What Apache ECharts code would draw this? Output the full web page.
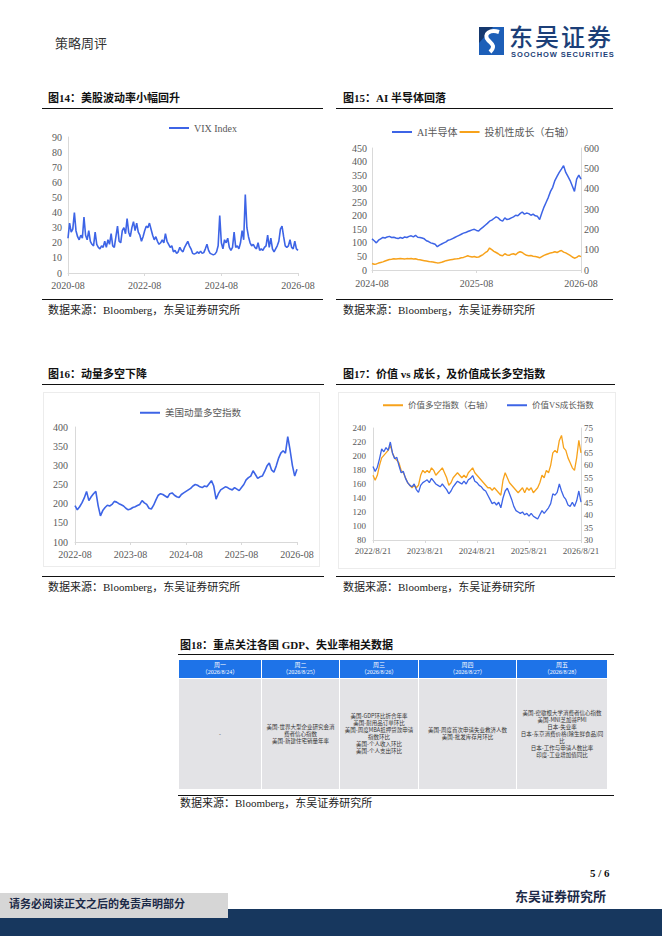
<!DOCTYPE html>
<html><head><meta charset="utf-8">
<script src="https://cdn.jsdelivr.net/npm/echarts@6/dist/echarts.min.js"></script>
<style>
html,body{margin:0;padding:0;background:#fff;}
#page{position:relative;width:662px;height:936px;overflow:hidden;font-family:'Liberation Serif','Noto Sans CJK SC',serif;}
#chart{position:absolute;left:0;top:0;width:662px;height:936px;}
.abs{position:absolute;white-space:nowrap;}
.ttl{font-family:'Liberation Serif','Noto Sans CJK SC',serif;font-weight:bold;font-size:11px;color:#111;line-height:12px;}
.rule{position:absolute;height:0;border-top:1.5px solid #111;}
.src{font-size:11px;color:#222;line-height:12px;}
.box{position:absolute;border:1px solid #ececec;}
.th{position:absolute;background:#1e73e8;color:#fff;text-align:center;font-size:6px;line-height:7.5px;display:flex;flex-direction:column;justify-content:center;}
.td{position:absolute;background:#e3e3e6;color:#333;text-align:center;font-size:5.5px;line-height:7px;display:flex;flex-direction:column;justify-content:center;font-family:'Noto Sans CJK SC',sans-serif;}
</style></head>
<body>
<div id="page">
<div id="chart"></div>

<!-- header -->
<div class="abs" style="left:55px;top:35px;font-size:13px;color:#333;line-height:16px;font-family:'Noto Sans CJK SC',serif;">策略周评</div>
<svg class="abs" style="left:479px;top:27px" width="25" height="28" viewBox="0 0 25 28">
  <rect width="25" height="28" fill="#1d5fb8"/>
  <path d="M0 0 L14 0 L0 16Z" fill="#15386e"/>
  <path d="M20 5 C11 2 4 7 9 13 C13 17 17 19 11 25" stroke="#fff" stroke-width="4" fill="none"/>
</svg>
<div class="abs" style="left:509px;top:24px;font-size:24px;line-height:27px;color:#1c3f78;font-family:'Liberation Sans','Noto Sans CJK SC',sans-serif;font-weight:500;letter-spacing:2px;">东吴证券</div>
<div class="abs" style="left:511px;top:51px;font-size:7.5px;line-height:8px;color:#1c3f78;font-family:'Liberation Sans Narrow','Liberation Sans',sans-serif;font-weight:bold;letter-spacing:0.9px;">SOOCHOW SECURITIES</div>

<!-- chart titles -->
<div class="abs ttl" style="left:48px;top:92px;">图14：美股波动率小幅回升</div>
<div class="abs ttl" style="left:343px;top:92px;">图15：AI 半导体回落</div>
<div class="rule" style="left:42px;top:108px;width:281px;"></div>
<div class="rule" style="left:336px;top:108px;width:277px;"></div>
<div class="rule" style="left:42px;top:299px;width:281px;"></div>
<div class="rule" style="left:336px;top:299px;width:277px;"></div>
<div class="abs src" style="left:48px;top:304px;">数据来源：Bloomberg，东吴证券研究所</div>
<div class="abs src" style="left:343px;top:304px;">数据来源：Bloomberg，东吴证券研究所</div>

<div class="abs ttl" style="left:48px;top:368px;">图16：动量多空下降</div>
<div class="abs ttl" style="left:343px;top:368px;">图17：价值 vs 成长，及价值成长多空指数</div>
<div class="rule" style="left:42px;top:384px;width:282px;"></div>
<div class="rule" style="left:336px;top:384px;width:279px;"></div>
<div class="box" style="left:43px;top:392px;width:275px;height:173px;"></div>
<div class="box" style="left:338px;top:392px;width:276px;height:175px;"></div>
<div class="rule" style="left:42px;top:576px;width:282px;"></div>
<div class="rule" style="left:336px;top:576px;width:279px;"></div>
<div class="abs src" style="left:48px;top:581px;">数据来源：Bloomberg，东吴证券研究所</div>
<div class="abs src" style="left:343px;top:581px;">数据来源：Bloomberg，东吴证券研究所</div>

<div class="abs ttl" style="left:180px;top:639px;">图18：重点关注各国 GDP、失业率相关数据</div>
<div class="rule" style="left:178px;top:654px;width:436px;"></div>
<div id="tbl"></div>
<div class="rule" style="left:178px;top:795px;width:436px;"></div>
<div class="abs src" style="left:180px;top:797px;">数据来源：Bloomberg，东吴证券研究所</div>

<!-- footer -->
<div class="abs" style="left:590px;top:867px;font-size:11px;font-weight:bold;color:#111;line-height:13px;">5 / 6</div>
<div class="abs" style="left:515px;top:889px;font-size:13px;font-weight:bold;color:#1c2a48;line-height:16px;">东吴证券研究所</div>
<div class="abs" style="left:0;top:909px;width:662px;height:27px;background:#17375e;"></div>
<div class="abs" style="left:0;top:893px;width:228px;height:25px;background:#d6d6d6;"></div>
<div class="abs" style="left:9px;top:897px;font-size:11px;font-weight:bold;color:#1c2a48;line-height:14px;">请务必阅读正文之后的免责声明部分</div>
</div>

<script>
// ---------- data ----------
// 图14 VIX Index, half-month steps from 2020-08 to 2026-08
const vix = [23,33,27,29,40,28,24,22,25,23,
37,25,22,28,21,19,18,27,19,17,
16,18,17,21,17,22,19,26,18,17,
24,31,21,20,28,30,26,36,27,24,
30,34,28,33,27,25,21,24,28,31,
30,33,29,25,22,24,21,19,20,22,
20,26,21,19,17,18,14,15,13,14,
17,15,14,17,19,21,18,16,13,12.5,
13,14,13,14.5,13,13.5,16,19,15,13,
12.5,12,12.5,14,18,38,20,16,22,20,
23,17,15,17,27,17,18,16,20,28,
22,52,30,24,20,18,19,17,16,20,
15,16,15,17,18,25,17,23,16,14,
16,18,21,29,31,24,18,17,18,22,
17,16,21,16,15];
// 图15, quarter-month steps from 2024-08 to 2026-08
const aiSemi = [115,108,100,110,115,120,118,122,124,120,
121,118,116,120,117,122,120,124,126,122,
128,121,120,118,115,108,105,100,98,95,
86,92,96,100,104,110,112,116,120,124,
128,132,136,138,142,145,148,150,146,144,
152,158,165,172,180,184,190,196,192,184,
180,192,186,188,192,196,202,200,208,214,
206,210,208,202,206,200,198,186,210,232,
250,268,290,305,330,345,360,372,385,360,
345,330,310,290,335,350,335];
const specGrowth = [32,28,30,34,37,40,44,48,52,53,
55,54,55,56,55,54,56,55,57,54,
55,52,50,48,46,44,42,40,39,37,
35,36,38,42,46,48,50,52,54,55,
57,60,62,66,70,66,64,66,63,64,
70,76,85,92,108,100,92,86,80,72,
70,80,74,72,78,80,75,85,90,86,
78,72,70,71,68,66,64,60,66,72,
76,80,84,86,90,86,92,96,88,84,
78,72,64,58,62,70,66];
// 图16, half-month steps from 2022-08 to 2026-08
const momentum = [195,184,192,202,215,232,208,218,226,232,
195,168,182,190,196,194,198,206,204,200,
197,194,188,184,186,190,192,195,198,208,
202,198,188,186,196,210,222,226,224,220,
216,226,228,222,218,216,224,228,232,236,
240,246,250,248,244,242,246,244,252,260,
246,212,226,236,240,244,242,238,236,242,
238,234,242,250,262,268,272,286,276,266,
270,272,284,298,306,288,282,298,318,332,
338,332,375,340,300,272,290];
// 图17, half-month steps from 2022/8/21 to 2026/8/21
const valueVsGrowth = [185,178,184,196,210,206,212,208,220,204,
196,198,186,176,178,168,162,158,156,160,
152,148,158,162,164,166,162,168,164,160,
158,156,160,156,152,146,150,156,160,164,
162,160,164,160,166,168,172,164,162,158,
156,152,150,144,138,132,134,130,134,126,
140,150,154,146,138,128,122,120,118,120,
116,118,114,118,114,112,110,116,122,118,
122,126,132,146,144,148,160,150,142,138,
130,128,134,128,136,150,134];
const valueLS = [56,54,56,60,63,64,65,66,68,65,
63,62,61,58,57,55,53,52,51,52,
51,52,56,58,57,58,57,59,58,56,
57,58,59,57,55,52,53,55,56,57,
56,55,56,55,57,58,59,57,56,55,
54,53,52,51,51,50,51,50,49,48,
54,57,55,53,52,51,50,49,50,51,
49,51,50,51,49,50,51,53,56,55,
58,57,60,65,66,65,70,72,67,66,
63,61,59,58,63,70,65];

// 图18 table
const weekdays = ['周一','周二','周三','周四','周五'];
const weekDates = ['（2026/8/24）','（2026/8/25）','（2026/8/26）','（2026/8/27）','（2026/8/28）'];
const events = [
  ['-'],
  ['美国-世界大型企业研究会消','费者信心指数','美国-新建住宅销量年率'],
  ['美国-GDP环比折合年率','美国-耐用品订单环比','美国-周度MBA抵押贷款申请','指数环比','美国-个人收入环比','美国-个人支出环比'],
  ['美国-周度首次申请失业救济人数','美国-批发库存月环比'],
  ['美国-密歇根大学消费者信心指数','美国-MNI芝加哥PMI','日本-失业率','日本-东京消费价格(除生鲜食品)同','比','日本-工作与申请人数比率','印度-工业增加值同比']
];

// ---------- table ----------
(function(){
  const lefts=[179,262,340,419,517], widths=[83,78,79,98,91];
  const t=document.getElementById('tbl');
  let h='';
  for(let i=0;i<5;i++){
    h+=`<div class="th" style="left:${lefts[i]}px;top:660px;width:${widths[i]-1}px;height:18px;"><div>${weekdays[i]}</div><div>${weekDates[i]}</div></div>`;
    h+=`<div class="td" style="left:${lefts[i]}px;top:679px;width:${widths[i]-1}px;height:110px;">${events[i].map(s=>`<div style="white-space:nowrap">${s}</div>`).join('')}</div>`;
  }
  t.innerHTML=h;
})();

// ---------- charts ----------
const FONT="Liberation Serif, Noto Sans CJK SC, serif";
const GRAY='#595959', AXC='#d9d9d9', BLUE='#3d64e6', ORANGE='#f7a21b';
const pts=(arr,step)=>arr.map((v,i)=>[i*step,v]);
function xA(gi,max,interval,fmt,fs,margin){
  return {type:'value',gridIndex:gi,min:0,max:max,interval:interval,
    axisLine:{show:true,lineStyle:{color:AXC}},axisTick:{show:true,length:3,lineStyle:{color:AXC}},
    splitLine:{show:false},axisLabel:{color:GRAY,fontSize:fs,fontFamily:FONT,formatter:fmt,margin:margin}};
}
function yA(gi,min,max,interval,fs,pos,margin){
  return {type:'value',gridIndex:gi,min:min,max:max,interval:interval,position:pos,
    axisLine:{show:true,lineStyle:{color:AXC}},axisTick:{show:false},splitLine:{show:false},
    axisLabel:{color:GRAY,fontSize:fs,fontFamily:FONT,margin:margin}};
}
const lineS=(name,xi,yi,data,color,w)=>({name:name,type:'line',xAxisIndex:xi,yAxisIndex:yi,data:data,
  showSymbol:false,symbol:'none',lineStyle:{color:color,width:w},itemStyle:{color:color},animation:false});
const legendBase=(left,top,names,fs,gap)=>({left:left,top:top,data:names,icon:'rect',itemWidth:20,itemHeight:2,itemGap:gap,
  textStyle:{color:GRAY,fontSize:fs,fontFamily:FONT},selectedMode:false});

const chart=echarts.init(document.getElementById('chart'),null,{renderer:'svg'});
chart.setOption({
  animation:false,
  textStyle:{fontFamily:FONT},
  grid:[
    {left:68,top:137,width:230,height:136},
    {left:372,top:148,width:209,height:122},
    {left:75,top:427,width:222,height:115},
    {left:373,top:428,width:208,height:112}
  ],
  xAxis:[
    xA(0,72,24,v=>(2020+v/12)+'-08',10,7),
    xA(1,24,12,v=>(2024+v/12)+'-08',10,8),
    xA(2,48,12,v=>(2022+v/12)+'-08',10,7),
    xA(3,48,12,v=>(2022+v/12)+'/8/21',9,6)
  ],
  yAxis:[
    yA(0,0,90,10,10,'left',6),
    yA(1,0,450,50,10,'left',5),
    yA(1,0,600,100,10,'right',3),
    yA(2,100,400,50,10,'left',7),
    yA(3,80,240,20,9,'left',7),
    yA(3,30,75,5,9,'right',3)
  ],
  legend:[
    legendBase(164,118,['VIX Index'],10,4),
    legendBase(387,122,['AI半导体','投机性成长（右轴）'],10,2),
    legendBase(135,403,['美国动量多空指数'],9.5,4),
    legendBase(378,396,['价值多空指数（右轴）','价值VS成长指数'],8.5,14)
  ],
  series:[
    lineS('VIX Index',0,0,pts(vix,0.5),BLUE,1.6),
    lineS('AI半导体',1,1,pts(aiSemi,0.25),BLUE,1.5),
    lineS('投机性成长（右轴）',1,2,pts(specGrowth,0.25),ORANGE,1.5),
    lineS('美国动量多空指数',2,3,pts(momentum,0.5),BLUE,1.6),
    lineS('价值多空指数（右轴）',3,5,pts(valueLS,0.5),ORANGE,1.3),
    lineS('价值VS成长指数',3,4,pts(valueVsGrowth,0.5),BLUE,1.3)
  ]
});
</script>
</body></html>
